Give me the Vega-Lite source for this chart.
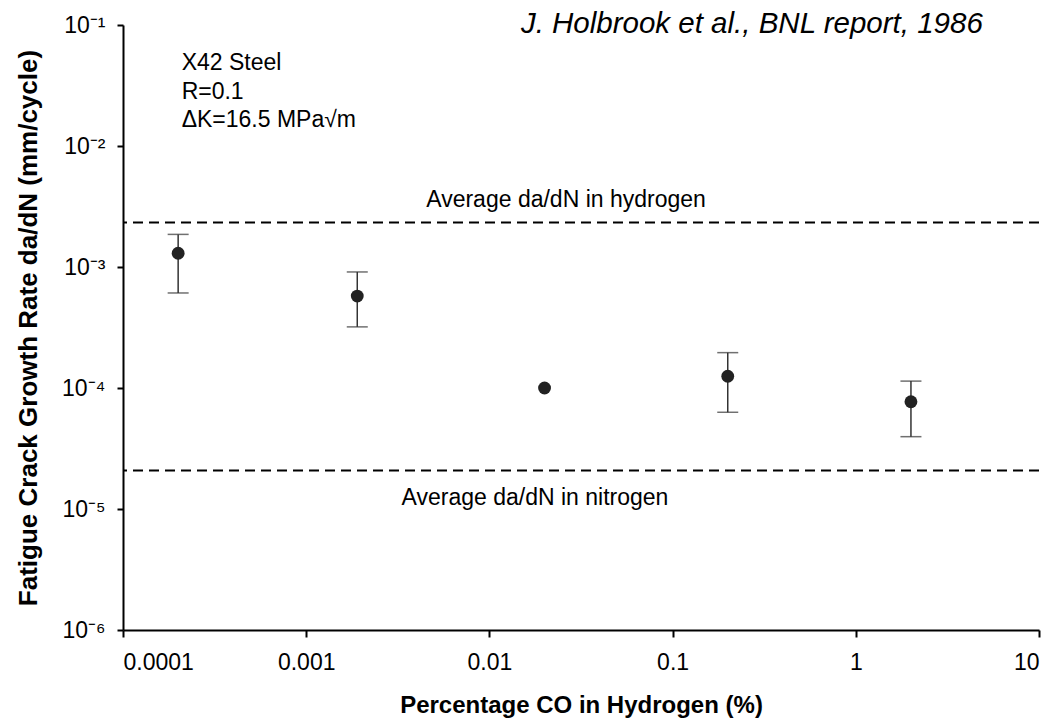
{
  "$schema": "https://vega.github.io/schema/vega-lite/v6.json",
  "autosize": "none",
  "width": 916,
  "height": 605,
  "padding": {"left": 123, "top": 25, "right": 25, "bottom": 90},
  "background": "white",
  "config": {
    "view": {"stroke": null},
    "font": "Liberation Sans",
    "axis": {"grid": false, "domainColor": "black", "tickColor": "black", "labelColor": "black", "titleColor": "black", "labelFont": "Liberation Sans", "titleFont": "Liberation Sans"}
  },
  "datasets": {
    "points": [
      {"co": 0.0002, "rate": 0.0013, "lo": 0.00061, "hi": 0.00186},
      {"co": 0.0019, "rate": 0.000575, "lo": 0.00032, "hi": 0.00091},
      {"co": 0.02, "rate": 0.0001, "lo": null, "hi": null},
      {"co": 0.2, "rate": 0.000125, "lo": 0.000063, "hi": 0.000196},
      {"co": 2, "rate": 0.000077, "lo": 0.0000396, "hi": 0.000114}
    ],
    "refs": [
      {"level": 0.00233, "gas": "hydrogen"},
      {"level": 0.0000208, "gas": "nitrogen"}
    ],
    "reflabels": [
      {"x": 0.0262, "y": 0.00316, "label": "Average da/dN in hydrogen"},
      {"x": 0.01774, "y": 0.0000108, "label": "Average da/dN in nitrogen"}
    ],
    "info": [
      {"x": 0.000209, "y": 0.0425, "label": "X42 Steel"},
      {"x": 0.000209, "y": 0.0243, "label": "R=0.1"},
      {"x": 0.000209, "y": 0.0143, "label": "ΔK=16.5 MPa√m"}
    ],
    "cite": [
      {"x": 0.01486, "y": 0.0853, "label": "J. Holbrook et al., BNL report, 1986"}
    ]
  },
  "layer": [
    {
      "data": {"name": "refs"},
      "mark": {"type": "rule", "color": "black", "strokeWidth": 2, "strokeDash": [10, 6]},
      "encoding": {
        "y": {"field": "level", "type": "quantitative", "scale": {"type": "log", "domain": [0.000001, 0.1]},
          "axis": {"title": "Fatigue Crack Growth Rate da/dN (mm/cycle)", "values": [0.000001, 0.00001, 0.0001, 0.001, 0.01, 0.1],
            "labelExpr": "'10' + ['⁻¹','⁻²','⁻³','⁻⁴','⁻⁵','⁻⁶'][-round(log(datum.value)/LN10)-1]",
            "labelFontSize": 23, "labelPadding": 12, "tickSize": 6, "tickWidth": 2, "domainWidth": 2,
            "titleFontSize": 26, "titleFontWeight": "bold", "titlePadding": 20}}
      }
    },
    {
      "data": {"name": "points"},
      "transform": [{"filter": "datum.lo != null"}],
      "mark": {"type": "rule", "color": "#333333", "strokeWidth": 1.5},
      "encoding": {
        "x": {"field": "co", "type": "quantitative", "scale": {"type": "log", "domain": [0.0001, 10]}},
        "y": {"field": "lo", "type": "quantitative"},
        "y2": {"field": "hi"}
      }
    },
    {
      "data": {"name": "points"},
      "transform": [{"filter": "datum.lo != null"}],
      "mark": {"type": "tick", "color": "#333333", "orient": "horizontal", "size": 21, "thickness": 1.5},
      "encoding": {
        "x": {"field": "co", "type": "quantitative"},
        "y": {"field": "lo", "type": "quantitative"}
      }
    },
    {
      "data": {"name": "points"},
      "transform": [{"filter": "datum.lo != null"}],
      "mark": {"type": "tick", "color": "#333333", "orient": "horizontal", "size": 21, "thickness": 1.5},
      "encoding": {
        "x": {"field": "co", "type": "quantitative"},
        "y": {"field": "hi", "type": "quantitative"}
      }
    },
    {
      "data": {"name": "points"},
      "mark": {"type": "point", "filled": true, "shape": "circle", "color": "#222222", "opacity": 1, "size": 165},
      "encoding": {
        "x": {"field": "co", "type": "quantitative",
          "axis": {"title": "Percentage CO in Hydrogen (%)", "values": [0.0001, 0.001, 0.01, 0.1, 1, 10], "format": "~g",
            "labelFontSize": 23, "labelPadding": 14, "tickSize": 7, "tickWidth": 2, "domainWidth": 2,
            "titleFontSize": 24, "titleFontWeight": "bold", "titlePadding": 19}},
        "y": {"field": "rate", "type": "quantitative"}
      }
    },
    {
      "data": {"name": "reflabels"},
      "mark": {"type": "text", "align": "center", "baseline": "alphabetic", "fontSize": 23, "color": "black"},
      "encoding": {
        "x": {"field": "x", "type": "quantitative"},
        "y": {"field": "y", "type": "quantitative"},
        "text": {"field": "label"}
      }
    },
    {
      "data": {"name": "info"},
      "mark": {"type": "text", "align": "left", "baseline": "alphabetic", "fontSize": 23, "color": "black"},
      "encoding": {
        "x": {"field": "x", "type": "quantitative"},
        "y": {"field": "y", "type": "quantitative"},
        "text": {"field": "label"}
      }
    },
    {
      "data": {"name": "cite"},
      "mark": {"type": "text", "align": "left", "baseline": "alphabetic", "fontSize": 29.5, "fontStyle": "italic", "color": "black"},
      "encoding": {
        "x": {"field": "x", "type": "quantitative"},
        "y": {"field": "y", "type": "quantitative"},
        "text": {"field": "label"}
      }
    }
  ]
}
